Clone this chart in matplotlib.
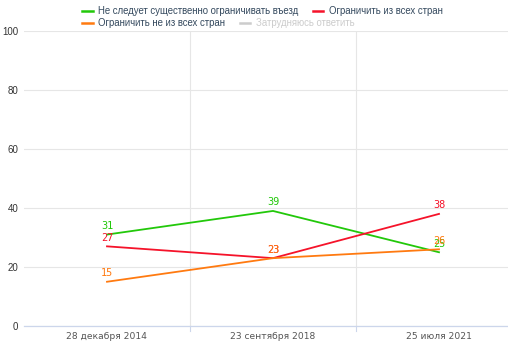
import matplotlib.pyplot as plt
from matplotlib.lines import Line2D

dates = ["28 декабря 2014", "23 сентября 2018", "25 июля 2021"]
no_limit = [31, 39, 25]
limit_all = [27, 23, 38]
limit_some = [15, 23, 26]

names = [
    "Не следует существенно ограничивать въезд",
    "Ограничить из всех стран",
    "Ограничить не из всех стран",
    "Затрудняюсь ответить",
]
colors = ["#22c80a", "#f5132a", "#ff7a10", "#cccccc"]

plt.rcParams["font.family"] = ["Liberation Sans", "DejaVu Sans"]

fig = plt.figure(figsize=(5.08, 3.45), dpi=100)
ax = fig.add_axes([24 / 508, 19 / 345, 498 / 508, 295 / 345])

x = list(range(len(dates)))
for vals, color in zip([no_limit, limit_all, limit_some], colors):
    ax.plot(x, vals, color=color, lw=1.3, zorder=3)
    for xi, v in zip(x, vals):
        ax.annotate(str(v), (xi, v), xytext=(0, 2.5), textcoords="offset points",
                    ha="center", va="bottom", fontsize=7.4, color=color,
                    family="DejaVu Sans Mono", zorder=4)

ax.set_xlim(-0.5, 2.5)
ax.set_ylim(0, 100)
ax.set_yticks([0, 20, 40, 60, 80, 100])
ax.set_xticks(x)
ax.set_xticklabels(dates, fontsize=6.6, color="#555555", family="DejaVu Sans")
ax.tick_params(axis="x", length=0, pad=4)
ax.tick_params(axis="y", length=0, pad=4, labelsize=7, labelcolor="#333333")

ax.grid(axis="y", color="#e6e6e6", lw=0.8)
for b in [0.5, 1.5]:
    ax.axvline(b, color="#e6e6e6", lw=0.8, zorder=1)
    ax.plot([b, b], [0, -1.7], color="#ccd6eb", lw=0.8, clip_on=False)
ax.set_axisbelow(True)
for s in ["top", "right", "left"]:
    ax.spines[s].set_visible(False)
ax.spines["bottom"].set_color("#ccd6eb")
ax.spines["bottom"].set_linewidth(0.9)

handles = [Line2D([], [], color=c, lw=1.8) for c in colors]
legend_kw = dict(ncol=2, frameon=False, fontsize=6.9, handlelength=1.1,
                 handletextpad=0.6, columnspacing=1.5, borderpad=0,
                 borderaxespad=0, loc="upper left")
leg1 = fig.legend(handles[:2], names[:2], bbox_to_anchor=(82 / 508, 1 - 6 / 345),
                  **legend_kw)
leg2 = fig.legend(handles[2:], names[2:], bbox_to_anchor=(82 / 508, 1 - 18 / 345),
                  **legend_kw)
for t in leg1.get_texts() + leg2.get_texts()[:1]:
    t.set_color("#34495e")
leg2.get_texts()[1].set_color("#cccccc")

fig.savefig("out.png", facecolor="white")
